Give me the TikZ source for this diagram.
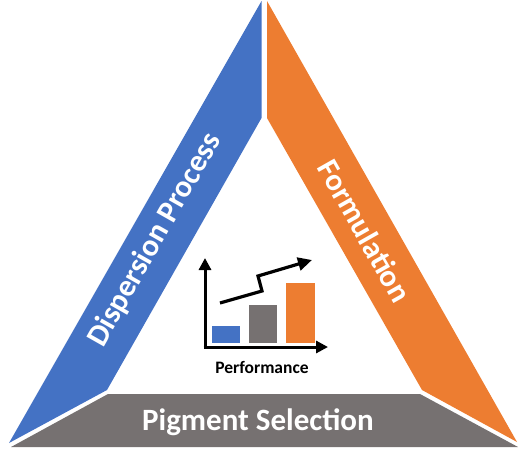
\documentclass[tikz,border=0pt]{standalone}
\usepackage{fontspec}
\setmainfont{Carlito}
\usetikzlibrary{arrows.meta, positioning}
\definecolor{pblue}{HTML}{4472C4}
\definecolor{porange}{HTML}{ED7D31}
\definecolor{pgray}{HTML}{767171}
\tikzset{
  bandlabel/.style={text=white, font=\bfseries\fontsize{31}{34}\selectfont, inner sep=0pt},
  axis/.style={-{Triangle[length=12pt,width=12pt]}, line width=3pt},
  trend/.style={-{Triangle[length=14pt,width=13pt]}, line width=3.2pt},
  bar/.style={draw=none}
}

\begin{document}
\begin{tikzpicture}[x=1pt,y=-1pt]
  \useasboundingbox (0,0) rectangle (527,453);

  % Bands of the triangle
  \fill[pblue]   (261.5,1) -- (261.5,118) -- (107,390) -- (9,443) -- cycle;
  \fill[porange] (267,1) -- (267,118) -- (422,390) -- (517,442) -- cycle;
  \fill[pgray]   (108,394) -- (420,394) -- (518,447) -- (11,447) -- cycle;

  % Labels
  \node[bandlabel, rotate=60.5]  (disp) at (155,240) {Dispersion Process};
  \node[bandlabel, rotate=-60.5] (form) at (365,231) {Formulation};
  \node[bandlabel]               (pigm) at (258,422) {Pigment Selection};

  % Chart
  \coordinate (orig) at (205,347);
  \coordinate (ytip) at (205,258);
  \coordinate (xtip) at (328,347);
  \fill[pblue, bar]   (212,343) rectangle (240,326);
  \fill[pgray, bar]   (249,343) rectangle (277,305);
  \fill[porange, bar] (286,343) rectangle (315,283);
  \draw[axis] ([yshift=-1.5pt]orig) -- (ytip);
  \draw[axis] ([xshift=-1.5pt]orig) -- (xtip);
  \draw[trend] (220,303) -- (262,291) -- (258,276) -- (312,260);
  \node[font=\bfseries\fontsize{17.5}{19}\selectfont] (perf) at (262,367) {Performance};
\end{tikzpicture}
\end{document}
